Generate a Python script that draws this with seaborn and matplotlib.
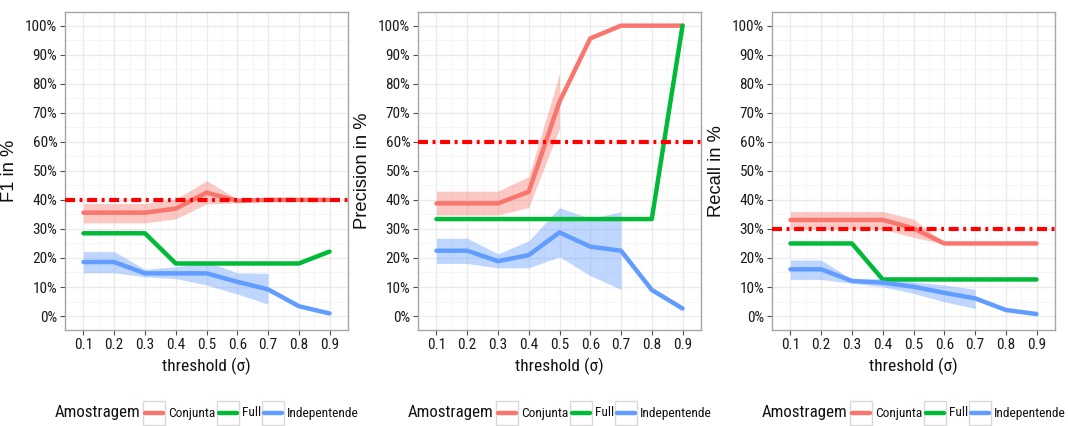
import numpy as np
import pandas as pd
import matplotlib
matplotlib.use("Agg")
import matplotlib.pyplot as plt
import seaborn as sns
from matplotlib.lines import Line2D
from matplotlib.patches import Rectangle
from matplotlib.ticker import FuncFormatter, MultipleLocator

thresholds = [0.1, 0.2, 0.3, 0.4, 0.5, 0.6, 0.7, 0.8, 0.9]
groups = ["Conjunta", "Full", "Indepentende"]
colors = ["#F8766D", "#00BA38", "#619CFF"]

# F1
f1_conj = [35.6, 35.6, 35.6, 37.0, 42.5, 39.7, 40.0, 40.0, 40.0]
f1_conj_lo = [32.1, 32.1, 32.1, 33.5, 38.6, 39.0, 39.6, np.nan, np.nan]
f1_conj_hi = [38.8, 38.8, 38.8, 40.2, 46.6, 40.3, 40.4, np.nan, np.nan]
f1_full = [28.5, 28.5, 28.5, 18.1, 18.1, 18.1, 18.1, 18.1, 22.2]
f1_ind = [18.6, 18.6, 14.7, 14.7, 14.7, 11.8, 9.2, 3.4, 0.9]
f1_ind_lo = [14.9, 14.9, 13.5, 12.9, 10.7, 7.6, 4.1, np.nan, np.nan]
f1_ind_hi = [22.2, 22.2, 16.1, 17.0, 18.7, 14.9, 14.7, np.nan, np.nan]

# Precision
pr_conj = [38.8, 38.8, 38.8, 42.8, 73.8, 95.6, 100.0, 100.0, 100.0]
pr_conj_lo = [34.8, 34.8, 34.8, 37.4, 64.6, np.nan, np.nan, np.nan, np.nan]
pr_conj_hi = [43.0, 43.0, 43.0, 48.0, 83.4, np.nan, np.nan, np.nan, np.nan]
pr_full = [33.4, 33.4, 33.4, 33.4, 33.4, 33.4, 33.4, 33.4, 100.0]
pr_ind = [22.5, 22.5, 18.9, 21.0, 28.8, 23.9, 22.5, 9.0, 2.6]
pr_ind_lo = [18.1, 18.1, 16.6, 16.6, 20.4, 13.9, 9.2, np.nan, np.nan]
pr_ind_hi = [26.8, 26.8, 21.4, 25.9, 37.3, 33.6, 35.9, np.nan, np.nan]

# Recall
rc_conj = [33.1, 33.1, 33.1, 33.1, 30.2, 25.0, 25.0, 25.0, 25.0]
rc_conj_lo = [29.9, 29.9, 29.9, 29.9, 27.1, 24.8, np.nan, np.nan, np.nan]
rc_conj_hi = [36.0, 36.0, 36.0, 36.0, 33.4, 25.2, np.nan, np.nan, np.nan]
rc_full = [25.0, 25.0, 25.0, 12.6, 12.6, 12.6, 12.6, 12.6, 12.6]
rc_ind = [16.1, 16.1, 12.1, 11.5, 10.1, 8.0, 6.1, 2.1, 0.7]
rc_ind_lo = [12.6, 12.6, 11.3, 10.1, 7.8, 4.9, 2.6, np.nan, np.nan]
rc_ind_hi = [19.3, 19.3, 12.6, 13.0, 11.8, 10.7, 9.2, np.nan, np.nan]

y_labels = ["F1 in %", "Precision in %", "Recall in %"]
ref_levels = [40, 60, 30]
panels = [
    (f1_conj, f1_conj_lo, f1_conj_hi, f1_full, f1_ind, f1_ind_lo, f1_ind_hi),
    (pr_conj, pr_conj_lo, pr_conj_hi, pr_full, pr_ind, pr_ind_lo, pr_ind_hi),
    (rc_conj, rc_conj_lo, rc_conj_hi, rc_full, rc_ind, rc_ind_lo, rc_ind_hi),
]

sns.set_theme(style="white")
narrow = ["Roboto Condensed", "Archivo Narrow", "IBM Plex Sans Condensed", "DejaVu Sans"]
wide = ["Liberation Sans", "Arimo", "DejaVu Sans"]
plt.rcParams["font.family"] = narrow

fig = plt.figure(figsize=(10.68, 4.26), dpi=100)
lefts = [65, 418, 772]
pw, top_px, bot_px = 283, 12, 330
W, H = 1068, 426

for i, (conj, clo, chi, full, ind, ilo, ihi) in enumerate(panels):
    ax = fig.add_axes([lefts[i] / W, 1 - bot_px / H, pw / W, (bot_px - top_px) / H])
    df = pd.DataFrame({
        "threshold": thresholds * 3,
        "value": conj + full + ind,
        "Amostragem": [groups[0]] * 9 + [groups[1]] * 9 + [groups[2]] * 9,
    })
    ax.fill_between(thresholds, clo, chi, color=colors[0], alpha=0.4, lw=0, zorder=2)
    ax.fill_between(thresholds, ilo, ihi, color=colors[2], alpha=0.4, lw=0, zorder=2)
    sns.lineplot(data=df, x="threshold", y="value", hue="Amostragem", hue_order=groups,
                 palette=colors, estimator=None, lw=3.2, ax=ax, legend=False, zorder=3)
    ax.axhline(ref_levels[i], color="#FF0000", lw=3, ls=(0, (2.4, 1.1, 0.7, 1.1)), zorder=4)
    ax.set_xticks(thresholds)
    ax.set_xticklabels([f"{t:.1f}" for t in thresholds])
    ax.set_xticks([t + 0.05 for t in thresholds[:-1]], minor=True)
    ax.yaxis.set_major_locator(MultipleLocator(10))
    ax.yaxis.set_minor_locator(MultipleLocator(5))
    ax.set_xlim(0.04, 0.96)
    ax.set_ylim(-4.8, 104.7)
    ax.yaxis.set_major_formatter(FuncFormatter(lambda v, p: f"{v:.0f}%"))
    ax.grid(which="major", color="#EBEBEB", lw=1.0, zorder=0)
    ax.grid(which="minor", color="#F5F5F5", lw=0.6, zorder=0)
    ax.set_axisbelow(True)
    for s in ax.spines.values():
        s.set_color("#A6A6A6")
        s.set_linewidth(1.0)
    ax.tick_params(axis="both", which="major", length=3.5, width=0.8, color="#4D4D4D",
                   labelsize=11, labelcolor="#1A1A1A", pad=2, bottom=True, left=True)
    ax.tick_params(axis="both", which="minor", length=0)
    ax.set_xlabel("threshold (σ)", fontsize=12.5, color="#111111")
    ax.xaxis.set_label_coords(0.5, -(366 - bot_px) / (bot_px - top_px))
    ax.xaxis.label.set_va("center")
    ax.set_ylabel(y_labels[i], fontsize=13.2, color="#111111", family=wide)
    ax.yaxis.set_label_coords(-47 / pw, 0.5)

    # legend (below each panel)
    lx = lefts[i] - 10
    ly = 413
    fig.text(lx / W, 1 - ly / H, "Amostragem", fontsize=12.2, va="center", ha="left", color="#111111")
    keys_x = [lx + 88, lx + 162, lx + 207]
    for k in range(3):
        kx = keys_x[k]
        fig.patches.append(Rectangle((kx / W, 1 - 425 / H), 22 / W, 24 / H, transform=fig.transFigure,
                                     facecolor="white", edgecolor="#D9D9D9", lw=1.0))
        fig.lines.append(Line2D([(kx + 2) / W, (kx + 20) / W], [1 - ly / H, 1 - ly / H],
                                transform=fig.transFigure, color=colors[k], lw=3.2))
        fig.text((kx + 25) / W, 1 - ly / H, groups[k], fontsize=9.6, va="center",
                 ha="left", color="#111111")

fig.savefig("out.png", dpi=100, facecolor="white")
